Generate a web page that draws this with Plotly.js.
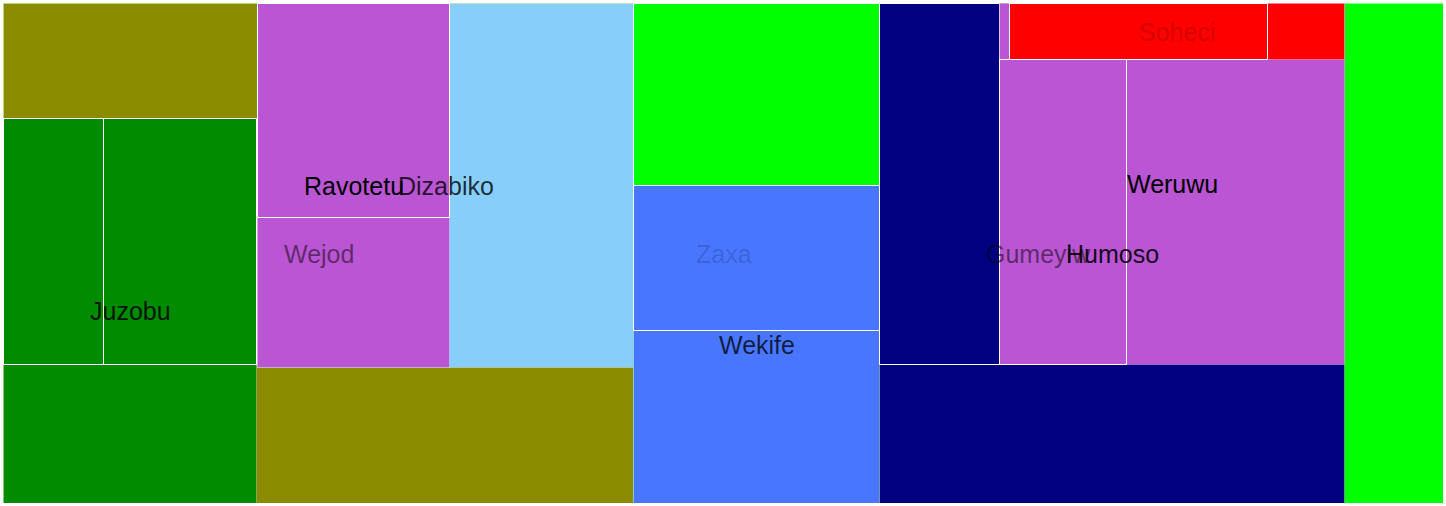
<!DOCTYPE html>
<html>
<head>
<meta charset="utf-8">
<script src="https://cdn.plot.ly/plotly-3.0.1.min.js"></script>
<style>html,body{margin:0;padding:0;background:#fff;}#chart{width:1446px;height:506px;}</style>
</head>
<body>
<div id="chart"></div>
<script>
// Treemap nodes (drawn parents first, then children)
const nodeLabels = ['Zaxa','Wejod','Juzobu','','','Dizabiko','Ravotetu','','Gumeyiw','','Wekife','','Humoso','','Weruwu','Soheci','',''];
const nodeParents = [-1,0,1,2,2,1,5,6,0,8,8,10,8,12,12,14,15,14];
const nodeX0 = [0,0,0,0,100,254,254,254,630,630,630,630,876,876,996,1006,1006,996];
const nodeX1 = [1440,630,253,100,253,630,446,446,1440,876,876,876,1341,996,1341,1341,1264,1123];
const nodeY0 = [0,0,115,115,115,0,0,0,0,0,182,182,0,0,0,0,0,56];
const nodeY1 = [500,500,500,361,361,364,364,214,500,182,500,327,500,361,361,56,56,361];
const nodeColors = ['#00FF00','#8B8B00','#008B00','#008B00','#008B00','#87CEFA','#BA55D3','#BA55D3','#00FF00','#00FF00','#4876FF','#4876FF','#000080','#000080','#BA55D3','#FF0000','#FF0000','#BA55D3'];
const labelAlpha = [0.16,0.5,0.85,0,0,0.8,1,0,0.5,0,0.75,0,0.9,0,1,0.18,0,0];

const isParent = nodeLabels.map((_, i) => nodeParents.includes(i));

const traces = [];
for (let i = 0; i < nodeLabels.length; i++) {
  traces.push({
    type: 'scatter',
    mode: 'lines',
    x: [nodeX0[i], nodeX1[i], nodeX1[i], nodeX0[i], nodeX0[i]],
    y: [nodeY0[i], nodeY0[i], nodeY1[i], nodeY1[i], nodeY0[i]],
    fill: 'toself',
    fillcolor: nodeColors[i],
    line: {color: isParent[i] ? 'rgba(255,255,255,0.3)' : '#ffffff', width: 1},
    hoverinfo: 'skip',
    showlegend: false
  });
}

const annotations = [];
for (let i = 0; i < nodeLabels.length; i++) {
  if (!nodeLabels[i]) continue;
  annotations.push({
    x: (nodeX0[i] + nodeX1[i]) / 2,
    y: (nodeY0[i] + nodeY1[i]) / 2,
    xref: 'x', yref: 'y',
    text: nodeLabels[i],
    showarrow: false,
    xanchor: 'center', yanchor: 'middle',
    font: {family: 'Liberation Sans, Arial, sans-serif', size: 25, color: 'rgba(0,0,0,' + labelAlpha[i] + ')'}
  });
}

const layout = {
  width: 1446, height: 506,
  margin: {l: 3, r: 3, t: 3, b: 3, pad: 0},
  paper_bgcolor: '#ffffff',
  plot_bgcolor: '#ffffff',
  xaxis: {range: [-0.5, 1439.5], visible: false, fixedrange: true},
  yaxis: {range: [499.5, -0.5], visible: false, fixedrange: true},
  annotations: annotations,
  hovermode: false
};

Plotly.newPlot('chart', traces, layout, {displayModeBar: false, staticPlot: true});
</script>
</body>
</html>
